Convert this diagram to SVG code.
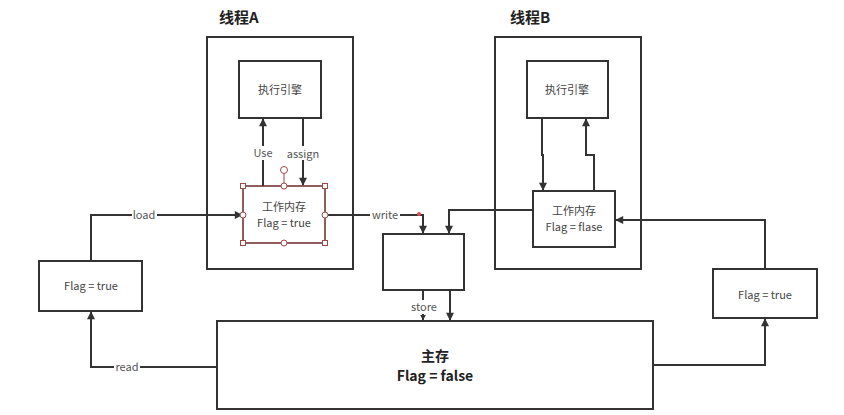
<svg xmlns="http://www.w3.org/2000/svg" width="844" height="415" viewBox="0 0 844 415">
<defs>
<marker id="ah" viewBox="0 0 10 10" refX="9" refY="5" markerWidth="10" markerHeight="8" orient="auto" markerUnits="userSpaceOnUse">
<path d="M0,0 L10,5 L0,10 z" fill="#333"/>
</marker>
<marker id="ahs" viewBox="0 0 10 10" refX="9" refY="5" markerWidth="6" markerHeight="6" orient="auto" markerUnits="userSpaceOnUse">
<path d="M0,0 L10,5 L0,10 z" fill="#333"/>
</marker>
</defs>
<style>
.box{fill:#fff;stroke:#333;stroke-width:2}
.frame{fill:none;stroke:#333;stroke-width:2}
.t{font-family:"Noto Sans CJK SC","Noto Sans",sans-serif;font-size:11px;fill:#444;text-anchor:middle}
.title{font-family:"Noto Sans CJK SC","Noto Sans",sans-serif;font-size:15px;font-weight:bold;fill:#222}
.big{font-family:"Noto Sans CJK SC","Noto Sans",sans-serif;font-size:14px;font-weight:bold;fill:#222;text-anchor:middle}
.ln{fill:none;stroke:#333;stroke-width:2}
.lbl{font-family:"Noto Sans CJK SC","Noto Sans",sans-serif;font-size:11px;fill:#555;text-anchor:middle}
.lblbg{fill:#fff}
.h{fill:#fff;stroke:#a04848;stroke-width:1}
</style>
<rect width="844" height="415" fill="#fff"/>

<g id="threadA">
<rect class="frame" x="207" y="37" width="146" height="232"/>
<text class="title" x="219" y="23">线程A</text>
</g>
<g id="threadB">
<rect class="frame" x="495" y="37" width="146" height="232"/>
<text class="title" x="510" y="23">线程B</text>
</g>

<g id="connectors">
<path class="ln" d="M263,186 V119" marker-end="url(#ah)"/>
<path class="ln" d="M303,118 V185" marker-end="url(#ah)"/>
<path class="ln" d="M91,261 V215 H242" marker-end="url(#ah)"/>
<path class="ln" d="M217,367 H91 V312" marker-end="url(#ah)"/>
<path class="ln" d="M325,215 H423 V233" marker-end="url(#ah)"/>
<path class="ln" d="M533,210 H449 V233" marker-end="url(#ah)"/>
<path class="ln" d="M423,290 V320" marker-end="url(#ahs)"/>
<path class="ln" d="M450,290 V320" marker-end="url(#ah)"/>
<path class="ln" d="M542,118 V155 H543 V190" marker-end="url(#ah)"/>
<path class="ln" d="M594,191 V155 H586 V119" marker-end="url(#ah)"/>
<path class="ln" d="M765,269 V220 H616" marker-end="url(#ah)"/>
<path class="ln" d="M653,365 H765 V319" marker-end="url(#ah)"/>
<rect class="lblbg" x="252" y="146" width="22" height="14"/>
<text class="lbl" x="263" y="157">Use</text>
<rect class="lblbg" x="286" y="146" width="34" height="14"/>
<text class="lbl" x="303" y="158">assign</text>
<rect class="lblbg" x="132" y="208" width="25" height="14"/>
<text class="lbl" x="144" y="219">load</text>
<rect class="lblbg" x="114" y="360" width="26" height="14"/>
<text class="lbl" x="127" y="371">read</text>
<rect class="lblbg" x="370" y="208" width="30" height="14"/>
<text class="lbl" x="385" y="219">write</text>
<circle cx="419" cy="214" r="2" fill="#e05050"/>
<rect class="lblbg" x="410" y="300" width="28" height="14"/>
<text class="lbl" x="424" y="311">store</text>
</g>

<g id="execA">
<rect class="box" x="239" y="61" width="82" height="57"/>
<text class="t" x="280" y="94">执行引擎</text>
</g>
<g id="workA">
<rect x="243" y="186" width="82" height="57" fill="#fff" stroke="#6a2a2a" stroke-width="1.5"/>
<text class="t" x="284" y="211">工作内存</text>
<text class="t" x="284" y="227">Flag = true</text>
<line x1="284" y1="171" x2="284" y2="186" stroke="#a04848" stroke-width="1"/>
<circle class="h" cx="284" cy="170" r="3.5"/>
<rect class="h" x="240.5" y="183.5" width="5" height="5"/>
<rect class="h" x="322.5" y="183.5" width="5" height="5"/>
<rect class="h" x="240.5" y="240.5" width="5" height="5"/>
<rect class="h" x="322.5" y="240.5" width="5" height="5"/>
<circle class="h" cx="284" cy="186" r="3"/>
<circle class="h" cx="284" cy="243" r="3"/>
<circle class="h" cx="243" cy="215" r="3"/>
<circle class="h" cx="325" cy="215" r="3"/>
</g>
<g id="execB">
<rect class="box" x="527" y="61" width="81" height="57"/>
<text class="t" x="567" y="94">执行引擎</text>
</g>
<g id="workB">
<rect class="box" x="533" y="191" width="82" height="56"/>
<text class="t" x="574" y="215">工作内存</text>
<text class="t" x="574" y="231">Flag = flase</text>
</g>
<g id="flagLeft">
<rect class="box" x="39" y="261" width="103" height="50"/>
<text class="t" x="91" y="290">Flag = true</text>
</g>
<g id="flagRight">
<rect class="box" x="713" y="269" width="104" height="49"/>
<text class="t" x="765" y="299">Flag = true</text>
</g>
<g id="midBox">
<rect class="box" x="383" y="234" width="81" height="56"/>
</g>
<g id="mainMem">
<rect class="box" x="217" y="321" width="436" height="88"/>
<text class="big" x="435" y="361">主存</text>
<text class="big" x="435" y="381">Flag = false</text>
</g>
</svg>
